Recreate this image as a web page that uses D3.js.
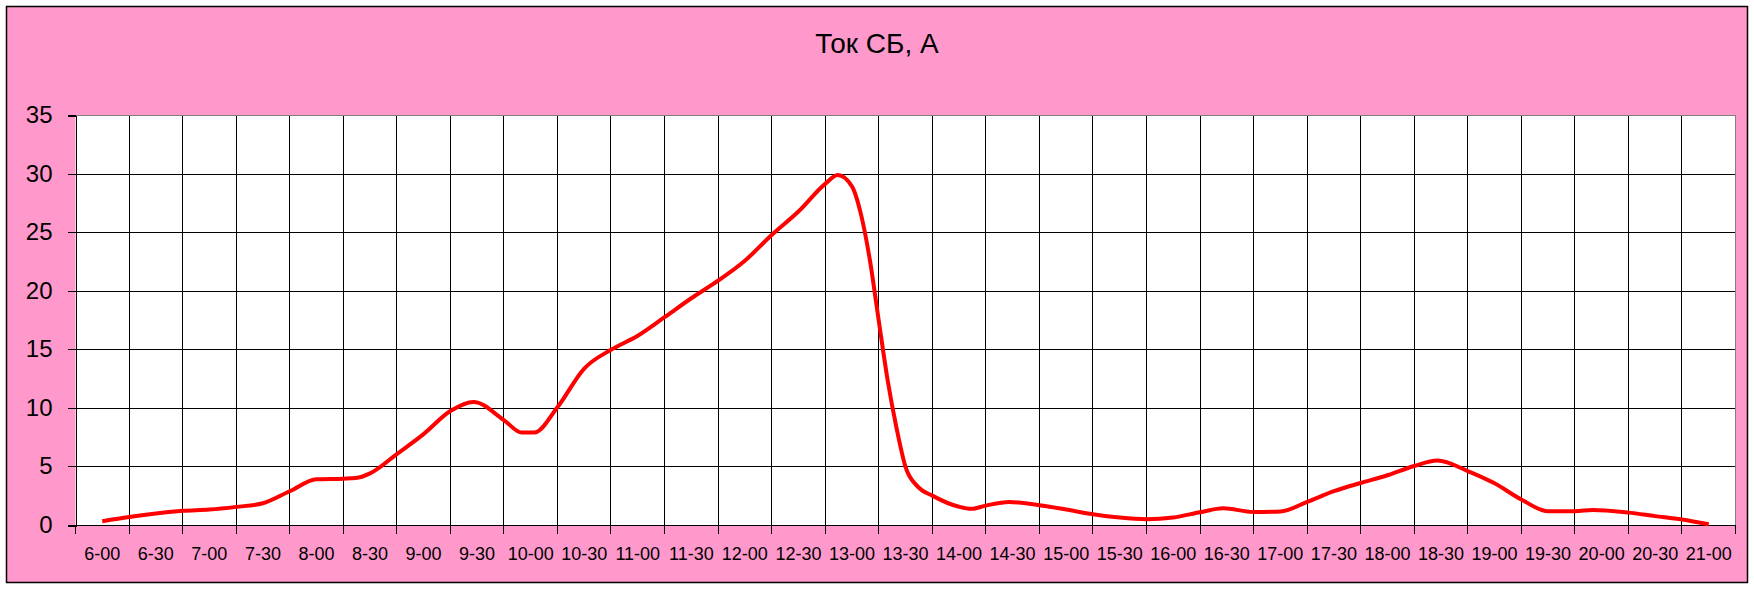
<!DOCTYPE html>
<html><head><meta charset="utf-8">
<script src="https://cdn.jsdelivr.net/npm/d3@7"></script>
<style>
body{margin:0;background:#fff}
svg{display:block}
text{font-family:"Liberation Sans",Arial,sans-serif;fill:#000}
</style>
</head><body>
<svg id="chart" width="1754" height="589"></svg>
<script>
const title = "Ток СБ, А";
const categories = ["6-00","6-30","7-00","7-30","8-00","8-30","9-00","9-30","10-00","10-30","11-00","11-30","12-00","12-30","13-00","13-30","14-00","14-30","15-00","15-30","16-00","16-30","17-00","17-30","18-00","18-30","19-00","19-30","20-00","20-30","21-00"];
const yTicks = [0,5,10,15,20,25,30,35];
const sampleTimes = ["6:00","6:15","6:30","6:45","7:00","7:15","7:30","7:45","8:00","8:15","8:22","8:30","8:45","9:00","9:15","9:28","9:45","9:55","10:02","10:15","10:30","10:45","11:00","11:15","11:30","11:45","12:00","12:15","12:30","12:45","12:52","13:00","13:05","13:10","13:15","13:20","13:25","13:30","13:37","13:45","14:00","14:07","14:15","14:28","14:45","15:00","15:15","15:30","15:45","16:00","16:15","16:28","16:45","17:00","17:15","17:30","17:45","18:00","18:15","18:28","18:45","19:00","19:15","19:30","19:45","19:55","20:15","20:30","20:45","21:00"];
const currentValues = [0.37,0.73,1.02,1.25,1.36,1.59,1.9,2.92,3.95,4.0,4.05,4.45,6.1,7.8,9.77,10.55,9.0,7.93,7.93,10.1,13.4,15.0,16.2,17.78,19.4,20.9,22.6,24.8,26.8,29.16,29.92,28.95,26.6,22.7,17.5,12.4,8.3,5.0,3.3,2.55,1.6,1.42,1.7,2.01,1.73,1.36,0.96,0.68,0.54,0.68,1.13,1.47,1.16,1.2,2.01,2.93,3.63,4.29,5.08,5.54,4.65,3.6,2.22,1.22,1.22,1.33,1.1,0.8,0.51,0.1];

const W = 1754, H = 589;
const plot = {left: 75.5, right: 1735.5, top: 115.5, bottom: 525.5};
const svg = d3.select("#chart");

// backgrounds
svg.append("rect").attr("x",0).attr("y",0).attr("width",W).attr("height",H).attr("fill","#fff");
svg.append("rect").attr("x",6.5).attr("y",6.5).attr("width",1741).attr("height",576)
  .attr("fill","#FF99CC").attr("stroke","#000").attr("stroke-width",1.5);
svg.append("rect").attr("x",plot.left).attr("y",plot.top)
  .attr("width",plot.right-plot.left).attr("height",plot.bottom-plot.top).attr("fill","#fff");

const x = d3.scaleBand().domain(categories).range([plot.left, plot.right]).padding(0);
const bw = x.bandwidth();
const toMin = s => { const [h,m] = s.split(":").map(Number); return h*60+m; };
const xt = d3.scaleLinear().domain([toMin("6:00"), toMin("21:00")])
  .range([x(categories[0]) + bw/2, x(categories[categories.length-1]) + bw/2]);
const y = d3.scaleLinear().domain([0,35]).range([plot.bottom, plot.top]);

const g = svg.append("g").attr("shape-rendering","crispEdges");
const snap = v => Math.round(v - 0.5) + 0.5;

// horizontal gridlines
g.selectAll(".hg").data(yTicks.filter(d => d > 0 && d < 35)).join("line")
  .attr("x1", plot.left).attr("x2", plot.right)
  .attr("y1", d => snap(y(d))).attr("y2", d => snap(y(d)))
  .attr("stroke","#000").attr("stroke-width",1);
// vertical gridlines at category boundaries
g.selectAll(".vg").data(categories.slice(1)).join("line")
  .attr("x1", d => snap(x(d))).attr("x2", d => snap(x(d)))
  .attr("y1", plot.top).attr("y2", plot.bottom)
  .attr("stroke","#000").attr("stroke-width",1);
// plot border top/right gray
g.append("line").attr("x1",plot.left).attr("x2",snap(plot.right)).attr("y1",snap(plot.top)).attr("y2",snap(plot.top)).attr("stroke","#808080");
g.append("line").attr("x1",snap(plot.right)).attr("x2",snap(plot.right)).attr("y1",plot.top).attr("y2",plot.bottom).attr("stroke","#808080");

// y axis
const yAxis = d3.axisLeft(y).tickValues(yTicks).tickSize(8).tickPadding(15).tickFormat(d3.format("d"));
const ya = svg.append("g").attr("transform",`translate(${snap(plot.left)},0)`).call(yAxis);
ya.attr("shape-rendering","crispEdges");
ya.select(".domain").attr("stroke","#000");
ya.selectAll(".tick line").attr("stroke","#000");
ya.selectAll(".tick").attr("transform", d => `translate(0,${snap(y(d))})`);
ya.selectAll("text").attr("font-size",24).attr("font-family","Liberation Sans, Arial, sans-serif").attr("fill","#000");

// x axis labels
const xAxis = d3.axisBottom(x).tickSize(0).tickPadding(22);
const xa = svg.append("g").attr("transform",`translate(0,${snap(plot.bottom)})`).call(xAxis);
xa.select(".domain").remove();
xa.selectAll("text").attr("font-size",18).attr("font-family","Liberation Sans, Arial, sans-serif").attr("fill","#000");
// x axis line and ticks at boundaries
const bounds = categories.map(c => x(c)).concat([plot.right]);
g.append("line").attr("x1",plot.left).attr("x2",plot.right).attr("y1",snap(plot.bottom)).attr("y2",snap(plot.bottom)).attr("stroke","#000");
g.selectAll(".xt").data(bounds).join("line")
  .attr("x1", d => snap(d)).attr("x2", d => snap(d))
  .attr("y1", snap(plot.bottom)).attr("y2", snap(plot.bottom)+8)
  .attr("stroke","#000");

// line
const pts = sampleTimes.map((t,i) => [xt(toMin(t)), y(currentValues[i])]);
svg.append("path").attr("d", d3.line().curve(d3.curveMonotoneX)(pts))
  .attr("fill","none").attr("stroke","#FF0000").attr("stroke-width",4)
  .attr("stroke-linejoin","round").attr("stroke-linecap","butt");

// title
svg.append("text").attr("x", W/2).attr("y", 53).attr("text-anchor","middle")
  .attr("font-size",28).text(title);
</script>
</body></html>
